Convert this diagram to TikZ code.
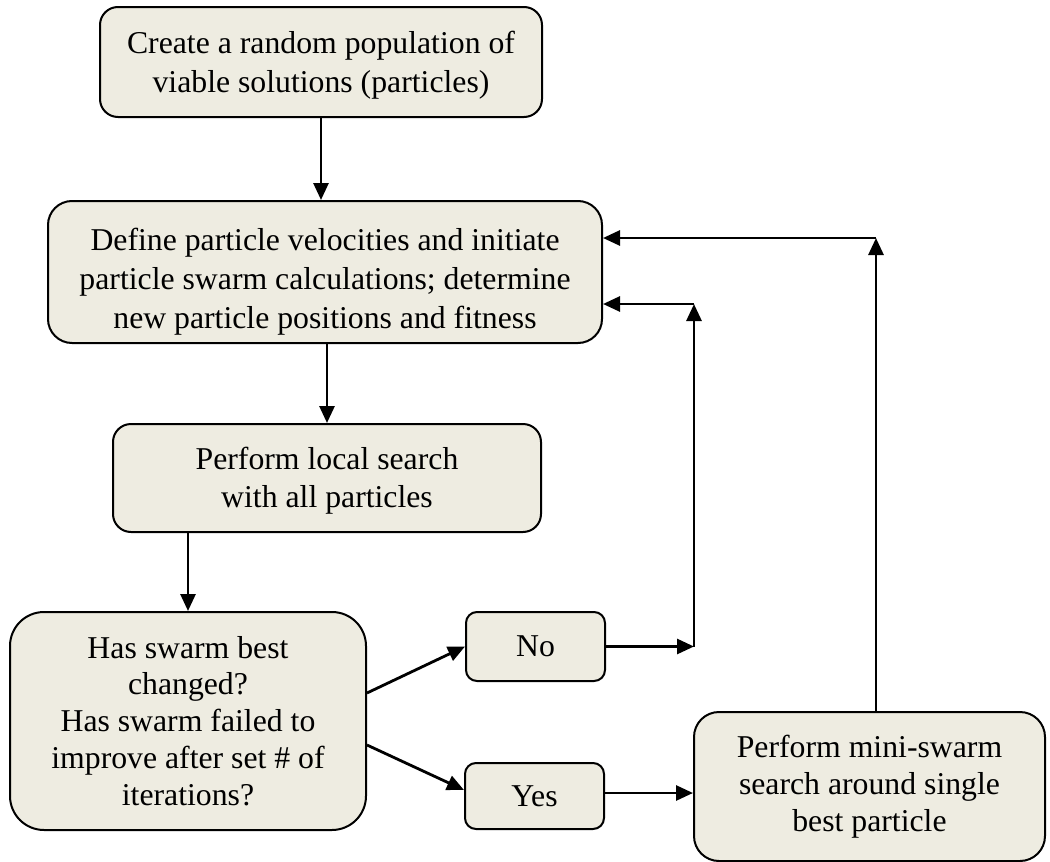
\documentclass[tikz,border=0pt]{standalone}
\usepackage{fontspec}
\setmainfont{Liberation Serif}
\usetikzlibrary{arrows.meta,calc}
\definecolor{boxfill}{HTML}{EEECE1}
\begin{document}
\begin{tikzpicture}[x=1pt,y=-1pt,
  box/.style={draw=black, line width=2pt, fill=boxfill, align=center,
    inner sep=0pt, font=\fontsize{31.75}{36.8}\selectfont},
  txt/.style={align=center, inner sep=0pt, font=\fontsize{31.75}{39}\selectfont},
  arr/.style={line width=2.8pt, -{Triangle[length=17pt,width=15pt]}}]
\useasboundingbox (0,0) rectangle (1050,862);

% process boxes
\node[box, minimum width=442pt, minimum height=110pt, rounded corners=18pt]
  (create) at (321,62) {};
\node[txt] (createtext) at (321,65.5) {Create a random population of\\viable solutions (particles)};
\node[box, minimum width=554pt, minimum height=142pt, rounded corners=24pt]
  (define) at (325,272) {};
\node[txt] (definetext) at (325,282) {Define particle velocities and initiate\\particle swarm calculations; determine\\new particle positions and fitness};
\node[box, minimum width=428pt, minimum height=108pt, rounded corners=18pt]
  (local) at (327,478) {};
\node[txt, font=\fontsize{31.75}{38}\selectfont] (localtext) at (327,480.5) {Perform local search\\with all particles};
\node[box, minimum width=356pt, minimum height=218pt, rounded corners=34pt]
  (check) at (188,721) {Has swarm best\\changed?\\Has swarm failed to\\improve after set \# of\\iterations?};
\node[box, minimum width=139pt, minimum height=69pt, rounded corners=11pt]
  (no) at (535.5,646.5) {No};
\node[box, minimum width=139pt, minimum height=66pt, rounded corners=11pt]
  (yes) at (534.5,796) {Yes};
\node[box, minimum width=351pt, minimum height=149pt, rounded corners=25pt]
  (mini) at (869.5,786.5) {Perform mini-swarm\\search around single\\best particle};

% bend points of the return loops
\coordinate (noturn) at ($(no.east)+(88,0)$);
\coordinate (notop) at ($(noturn)+(0,-342.5)$);
\coordinate (minitop) at ($(mini.north)+(6.5,-473)$);

% main flow
\draw[arr] (create.south) -- (create.south |- define.north);
\draw[arr] (local.north |- define.south) -- (local.north);
\draw[arr] (check.north |- local.south) -- (check.north);
\draw[arr] ([yshift=28pt]check.east) -- (no.west);
\draw[arr] ([yshift=-24pt]check.east) -- ([yshift=6pt]yes.west);

% "No" loop back
\draw[arr] (no.east) -- (noturn);
\draw[arr] (noturn) -- (notop);
\draw[arr] (notop) -- (notop -| define.east);

% "Yes" branch and loop back
\draw[arr] ([yshift=3pt]yes.east) -- ([yshift=3pt]yes.east -| mini.west);
\draw[arr] ([xshift=6.5pt]mini.north) -- (minitop);
\draw[arr] (minitop) -- (minitop -| define.east);
\end{tikzpicture}
\end{document}
